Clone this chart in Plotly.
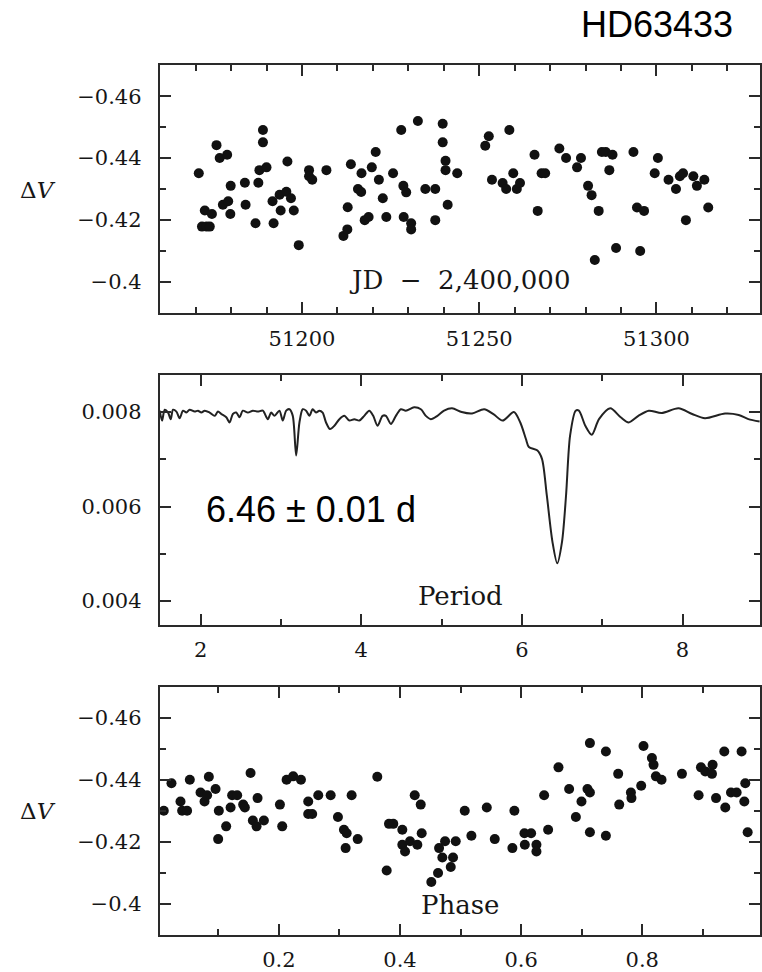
import plotly.graph_objects as go

# ---------------- data ----------------
# Top panel: light curve vs Julian date (JD - 2,400,000)
jd = [51170.9, 51175.9, 51176.8, 51178.9, 51172.6, 51174.6, 51171.8, 51173.1, 51174.0, 51179.9,
      51177.7, 51179.2, 51179.8, 51183.9, 51184.1, 51186.9, 51187.7, 51188.0, 51190.0, 51189.0,
      51189.0, 51191.7, 51192.0, 51193.7, 51195.6, 51195.9, 51194.0, 51196.9, 51197.7, 51199.1,
      51202.0, 51202.0, 51202.9, 51206.9, 51211.7, 51212.8, 51212.9, 51213.8, 51215.8, 51216.7,
      51216.8, 51217.7, 51218.8, 51219.7, 51220.8, 51221.7, 51222.8, 51223.8, 51225.7, 51228.0,
      51228.6, 51229.4, 51228.7, 51230.8, 51230.8, 51232.7, 51234.8, 51237.6, 51237.6, 51239.7,
      51239.7, 51240.5, 51240.5, 51241.1, 51243.8, 51251.7, 51252.7, 51253.6, 51256.6, 51257.6,
      51258.5, 51259.6, 51260.6, 51261.5, 51265.6, 51266.5, 51267.6, 51268.6, 51272.6, 51274.5,
      51277.6, 51278.7, 51280.7, 51281.7, 51283.7, 51282.6, 51284.6, 51285.7, 51287.6, 51286.7,
      51288.6, 51293.5, 51294.5, 51296.5, 51295.4, 51299.5, 51300.4, 51303.4, 51305.5, 51306.6,
      51307.5, 51308.3, 51310.4, 51311.4, 51313.5, 51314.6]
dv_time = [-0.4351, -0.4442, -0.4400, -0.4411, -0.4230, -0.4219, -0.4178, -0.4178, -0.4178, -0.4310,
           -0.4249, -0.4260, -0.4219, -0.4320, -0.4249, -0.4189, -0.4320, -0.4361, -0.4370, -0.4491,
           -0.4451, -0.4260, -0.4189, -0.4281, -0.4291, -0.4389, -0.4230, -0.4270, -0.4230, -0.4118,
           -0.4361, -0.4341, -0.4330, -0.4361, -0.4148, -0.4169, -0.4241, -0.4380, -0.4300, -0.4290,
           -0.4351, -0.4199, -0.4209, -0.4370, -0.4420, -0.4330, -0.4270, -0.4209, -0.4351, -0.4491,
           -0.4310, -0.4289, -0.4209, -0.4189, -0.4169, -0.4520, -0.4300, -0.4300, -0.4199, -0.4511,
           -0.4451, -0.4391, -0.4361, -0.4249, -0.4351, -0.4440, -0.4471, -0.4330, -0.4319, -0.4300,
           -0.4491, -0.4351, -0.4300, -0.4319, -0.4411, -0.4229, -0.4351, -0.4351, -0.4431, -0.4400,
           -0.4370, -0.4400, -0.4310, -0.4280, -0.4229, -0.4070, -0.4420, -0.4420, -0.4411, -0.4361,
           -0.4109, -0.4420, -0.4240, -0.4229, -0.4099, -0.4351, -0.4400, -0.4330, -0.4300, -0.4341,
           -0.4351, -0.4199, -0.4341, -0.4310, -0.4330, -0.4240]

# Middle panel: periodogram statistic vs trial period (days)
period = [1.491, 1.519, 1.553, 1.594, 1.627, 1.656, 1.698, 1.739, 1.780, 1.822,
          1.863, 1.925, 1.966, 2.009, 2.050, 2.112, 2.174, 2.215, 2.257, 2.319,
          2.360, 2.401, 2.443, 2.484, 2.525, 2.588, 2.650, 2.712, 2.774, 2.836,
          2.878, 2.919, 2.981, 3.022, 3.065, 3.106, 3.147, 3.189, 3.230, 3.271,
          3.313, 3.354, 3.395, 3.437, 3.478, 3.519, 3.561, 3.611, 3.665, 3.727,
          3.789, 3.851, 3.913, 3.975, 4.037, 4.099, 4.149, 4.202, 4.265, 4.307,
          4.369, 4.431, 4.493, 4.555, 4.658, 4.742, 4.804, 4.866, 4.948, 5.031,
          5.130, 5.250, 5.380, 5.530, 5.650, 5.760, 5.900, 5.980, 6.050, 6.087,
          6.190, 6.250, 6.310, 6.380, 6.440, 6.500, 6.550, 6.600, 6.670, 6.710,
          6.790, 6.870, 6.960, 7.100, 7.230, 7.330, 7.450, 7.580, 7.740, 7.950,
          8.120, 8.280, 8.530, 8.700, 8.820, 8.960]
theta = [0.00803, 0.00782, 0.00805, 0.00799, 0.00785, 0.00805, 0.00801, 0.00787, 0.00803, 0.00799,
         0.00805, 0.00801, 0.00803, 0.00799, 0.00803, 0.00799, 0.00792, 0.00801, 0.00796, 0.00789,
         0.00778, 0.00796, 0.00799, 0.00789, 0.00803, 0.00799, 0.00803, 0.00801, 0.00803, 0.00785,
         0.00799, 0.00792, 0.00803, 0.00782, 0.00803, 0.00806, 0.00792, 0.00708, 0.00778, 0.00806,
         0.00803, 0.00792, 0.00806, 0.00799, 0.00803, 0.00799, 0.00778, 0.00764, 0.00771, 0.00785,
         0.00792, 0.00782, 0.00785, 0.00782, 0.00792, 0.00803, 0.00792, 0.00771, 0.00792, 0.00792,
         0.00775, 0.00792, 0.00806, 0.00803, 0.00810, 0.00806, 0.00792, 0.00785, 0.00792, 0.00803,
         0.00808, 0.00800, 0.00797, 0.00806, 0.00795, 0.00782, 0.00800, 0.00778, 0.00743, 0.00726,
         0.00719, 0.00701, 0.00624, 0.00526, 0.00480, 0.00526, 0.00624, 0.00750, 0.00803, 0.00803,
         0.00771, 0.00752, 0.00785, 0.00808, 0.00789, 0.00778, 0.00792, 0.00803, 0.00798, 0.00808,
         0.00796, 0.00787, 0.00797, 0.00794, 0.00785, 0.00780]

# Bottom panel: light curve folded on the 6.46 d period
phase = [0.0099, 0.0226, 0.0375, 0.0402, 0.0484, 0.0529, 0.0706, 0.0772, 0.0815, 0.0843,
         0.0954, 0.1008, 0.0997, 0.1129, 0.1202, 0.1228, 0.1311, 0.1410, 0.1438, 0.1532,
         0.1570, 0.1631, 0.1648, 0.1752, 0.2017, 0.2055, 0.2127, 0.2236, 0.2364, 0.2484,
         0.2484, 0.2550, 0.2650, 0.2855, 0.2975, 0.3074, 0.3119, 0.3102, 0.3201, 0.3301,
         0.3625, 0.3780, 0.3818, 0.3889, 0.4038, 0.4038, 0.4083, 0.4165, 0.4286, 0.4243,
         0.4342, 0.4358, 0.4517, 0.4628, 0.4645, 0.4699, 0.4744, 0.4838, 0.4876, 0.4920,
         0.5069, 0.5179, 0.5433, 0.5565, 0.5856, 0.5889, 0.6055, 0.6165, 0.6061, 0.6253,
         0.6253, 0.6380, 0.6446, 0.6617, 0.6793, 0.6904, 0.6997, 0.7096, 0.7136, 0.7136,
         0.7136, 0.7400, 0.7400, 0.7603, 0.7620, 0.7813, 0.7822, 0.7983, 0.8021, 0.8160,
         0.8187, 0.8226, 0.8319, 0.8656, 0.8931, 0.8970, 0.9041, 0.9162, 0.9152, 0.9219,
         0.9355, 0.9372, 0.9466, 0.9559, 0.9641, 0.9702, 0.9686, 0.9741]
dv_phase = [-0.4300, -0.4389, -0.4330, -0.4300, -0.4300, -0.4400, -0.4359, -0.4330, -0.4350, -0.4410,
            -0.4370, -0.4300, -0.4209, -0.4250, -0.4311, -0.4350, -0.4350, -0.4320, -0.4311, -0.4422,
            -0.4269, -0.4250, -0.4341, -0.4269, -0.4320, -0.4250, -0.4400, -0.4411, -0.4400, -0.4330,
            -0.4290, -0.4290, -0.4350, -0.4350, -0.4280, -0.4239, -0.4228, -0.4180, -0.4350, -0.4209,
            -0.4410, -0.4108, -0.4258, -0.4258, -0.4239, -0.4191, -0.4169, -0.4202, -0.4191, -0.4350,
            -0.4320, -0.4228, -0.4071, -0.4100, -0.4180, -0.4150, -0.4202, -0.4119, -0.4150, -0.4202,
            -0.4300, -0.4220, -0.4311, -0.4209, -0.4180, -0.4300, -0.4228, -0.4228, -0.4191, -0.4191,
            -0.4169, -0.4350, -0.4239, -0.4440, -0.4370, -0.4280, -0.4330, -0.4370, -0.4359, -0.4518,
            -0.4231, -0.4491, -0.4220, -0.4419, -0.4320, -0.4359, -0.4341, -0.4381, -0.4509, -0.4470,
            -0.4448, -0.4411, -0.4400, -0.4419, -0.4350, -0.4440, -0.4427, -0.4448, -0.4419, -0.4341,
            -0.4491, -0.4311, -0.4359, -0.4359, -0.4491, -0.4389, -0.4330, -0.4231]

top_xticks = [51200, 51250, 51300]
mid_xticks = [2, 4, 6, 8]
bot_xticks = [0.2, 0.4, 0.6, 0.8]
dv_yticks = [-0.46, -0.44, -0.42, -0.4]
theta_yticks = [0.004, 0.006, 0.008]

# ---------------- figure ----------------
W, H = 762, 972
INK = "#2a2a2a"
TXT = "#161616"
SERIF = "DejaVu Serif"

fig = go.Figure()
fig.add_trace(go.Scatter(x=jd, y=dv_time, mode="markers", xaxis="x", yaxis="y",
                         marker=dict(size=10, color="#111111"), showlegend=False))
fig.add_trace(go.Scatter(x=period, y=theta, mode="lines", xaxis="x2", yaxis="y2",
                         line=dict(color="#222222", width=2, shape="spline", smoothing=0.8),
                         showlegend=False))
fig.add_trace(go.Scatter(x=phase, y=dv_phase, mode="markers", xaxis="x3", yaxis="y3",
                         marker=dict(size=10, color="#111111"), showlegend=False))


def px_x(p):
    return p / W


def px_y(p):
    return 1 - p / H


xdom = [px_x(160), px_x(761)]


def ax(minor_dtick, **kw):
    d = dict(showline=True, linewidth=2, linecolor=INK, mirror="ticks",
             ticks="inside", ticklen=11, tickwidth=2, tickcolor=INK,
             showgrid=False, zeroline=False,
             tickfont=dict(family=SERIF, size=21, color=TXT),
             minor=dict(ticks="inside", ticklen=6, tickwidth=2, tickcolor=INK,
                        dtick=minor_dtick, showgrid=False))
    d.update(kw)
    return d


fig.update_layout(
    width=W, height=H, margin=dict(l=0, r=0, t=0, b=0),
    paper_bgcolor="white", plot_bgcolor="white",
    xaxis=ax(10, domain=xdom, anchor="y", range=[51159.9, 51329.2],
             tickvals=top_xticks, ticktext=[str(v) for v in top_xticks],
             ticklabelstandoff=5),
    yaxis=ax(0.01, domain=[px_y(314), px_y(65)], anchor="x", range=[-0.3897, -0.4702],
             tickvals=dv_yticks, ticktext=["\u22120.46", "\u22120.44", "\u22120.42", "\u22120.4"],
             ticklabelstandoff=12),
    xaxis2=ax(1, domain=xdom, anchor="y2", range=[1.491, 8.965],
              tickvals=mid_xticks, ticktext=[str(v) for v in mid_xticks],
              ticklabelstandoff=5),
    yaxis2=ax(0.001, domain=[px_y(626), px_y(376)], anchor="x2", range=[0.0035, 0.00878],
              tickvals=theta_yticks, ticktext=["0.004", "0.006", "0.008"],
              ticklabelstandoff=12),
    xaxis3=ax(0.1, domain=xdom, anchor="y3", range=[0.0033, 0.9945],
              tickvals=bot_xticks, ticktext=[str(v) for v in bot_xticks],
              ticklabelstandoff=5),
    yaxis3=ax(0.01, domain=[px_y(937), px_y(688)], anchor="x3", range=[-0.39, -0.47],
              tickvals=dv_yticks, ticktext=["\u22120.46", "\u22120.44", "\u22120.42", "\u22120.4"],
              ticklabelstandoff=12),
)

ann_font = dict(family=SERIF, size=26, color=TXT)
sans = dict(family="Liberation Sans, Arial", size=36, color="#000000")
annotations = [
    dict(text="HD63433", x=px_x(658), y=px_y(25), font=sans),
    dict(text="6.46 \u00b1 0.01 d", x=px_x(311), y=px_y(511), font=sans),
    dict(text="JD  \u2212  2,400,000", x=px_x(460), y=px_y(281), font=ann_font),
    dict(text="Period", x=px_x(461), y=px_y(597), font=ann_font),
    dict(text="Phase", x=px_x(461), y=px_y(907), font=ann_font),
    dict(text="\u0394<i>V</i>", x=px_x(38), y=px_y(190), font=dict(family=SERIF, size=23, color=TXT)),
    dict(text="\u0394<i>V</i>", x=px_x(38), y=px_y(813), font=dict(family=SERIF, size=23, color=TXT)),
]
for a in annotations:
    fig.add_annotation(xref="paper", yref="paper", showarrow=False,
                       xanchor="center", yanchor="middle", **a)

fig.write_html("out.html")
